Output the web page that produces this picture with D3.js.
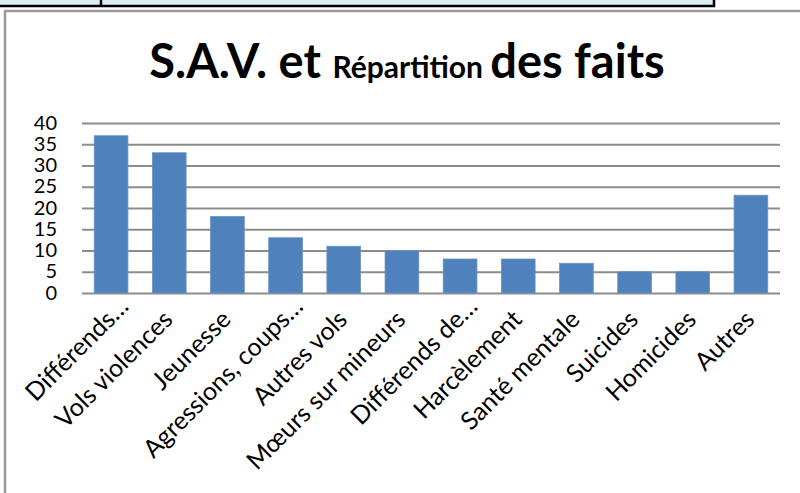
<!DOCTYPE html>
<html>
<head>
<meta charset="utf-8">
<script src="https://cdn.jsdelivr.net/npm/d3@7"></script>
<style>
  body { margin: 0; background: #fff; }
  svg { display: block; font-family: Lato, "Open Sans", sans-serif; }
</style>
</head>
<body>
<div id="chart"></div>
<script>
const width = 800;
const height = 493;
const margin = {top: 123, right: 20, bottom: 200, left: 82};

// data
const categories = ["Différends…", "Vols violences", "Jeunesse", "Agressions, coups…", "Autres vols",
    "Mœurs sur mineurs", "Différends de…", "Harcèlement", "Santé mentale", "Suicides", "Homicides", "Autres"];
const values = [37, 33, 18, 13, 11, 10, 8, 8, 7, 5, 5, 23];
const yTicks = [0, 5, 10, 15, 20, 25, 30, 35, 40];
const titleParts = [
    {text: "S.A.V. et ", big: true},
    {text: "Répartition ", big: false},
    {text: "des faits", big: true}
];

const svg = d3.create("svg")
    .attr("width", width)
    .attr("height", height);

// the bit of table above the chart
svg.append("rect")
    .attr("x", -5).attr("y", -5)
    .attr("width", 719).attr("height", 11)
    .attr("fill", "#dbeef3")
    .attr("stroke", "#000")
    .attr("stroke-width", 2.5);
svg.append("line")
    .attr("x1", 101).attr("x2", 101)
    .attr("y1", 0).attr("y2", 6)
    .attr("stroke", "#000")
    .attr("stroke-width", 2.5);

// chart frame
svg.append("rect")
    .attr("x", 5).attr("y", 11)
    .attr("width", 820).attr("height", 500)
    .attr("fill", "#fff")
    .attr("stroke", "#9a9a9a")
    .attr("stroke-width", 2.5);

const x = d3.scaleBand()
    .domain(categories)
    .range([margin.left, 780])
    .paddingInner(0.42)
    .paddingOuter(0.21);

const y = d3.scaleLinear()
    .domain([0, 40])
    .range([293, margin.top]);

// gridlines + labels
const yAxis = svg.append("g")
    .attr("transform", `translate(${margin.left},0)`)
    .call(d3.axisLeft(y)
        .tickValues(yTicks)
        .tickSize(-(780 - margin.left))
        .tickPadding(25));
yAxis.select(".domain").remove();
yAxis.selectAll(".tick line")
    .attr("stroke", "#8c8c8c")
    .attr("stroke-width", 2);
yAxis.selectAll(".tick text")
    .attr("font-family", "Lato, sans-serif")
    .attr("font-size", "20px")
    .attr("dy", "0.3em")
    .attr("fill", "#000");

svg.selectAll("rect.bar")
    .data(values)
    .join("rect")
    .attr("class", "bar")
    .attr("x", (d, i) => x(categories[i]))
    .attr("y", d => y(d))
    .attr("width", x.bandwidth())
    .attr("height", d => y(0) - y(d))
    .attr("fill", "#4f81bd")
    .attr("stroke", "#6b93c9")
    .attr("stroke-width", 0.8);

// category labels, rotated
svg.append("g")
    .selectAll("text")
    .data(categories)
    .join("text")
    .attr("transform", d => {
        const cut = d.endsWith("…");
        const cx = x(d) + x.bandwidth() / 2 + (cut ? 19 : 5);
        const cy = cut ? 308 : 321;
        return `translate(${cx},${cy}) rotate(-45)`;
    })
    .attr("text-anchor", "end")
    .attr("font-size", "25px")
    .attr("fill", "#000")
    .text(d => d);

// title with a smaller middle word
const title = svg.append("text")
    .attr("x", 407)
    .attr("y", 78)
    .attr("text-anchor", "middle")
    .attr("font-weight", "bold")
    .attr("fill", "#000");
title.selectAll("tspan")
    .data(titleParts)
    .join("tspan")
    .attr("font-size", d => d.big ? "47px" : "30px")
    .text(d => d.text);

d3.select("#chart").append(() => svg.node());
</script>
</body>
</html>
